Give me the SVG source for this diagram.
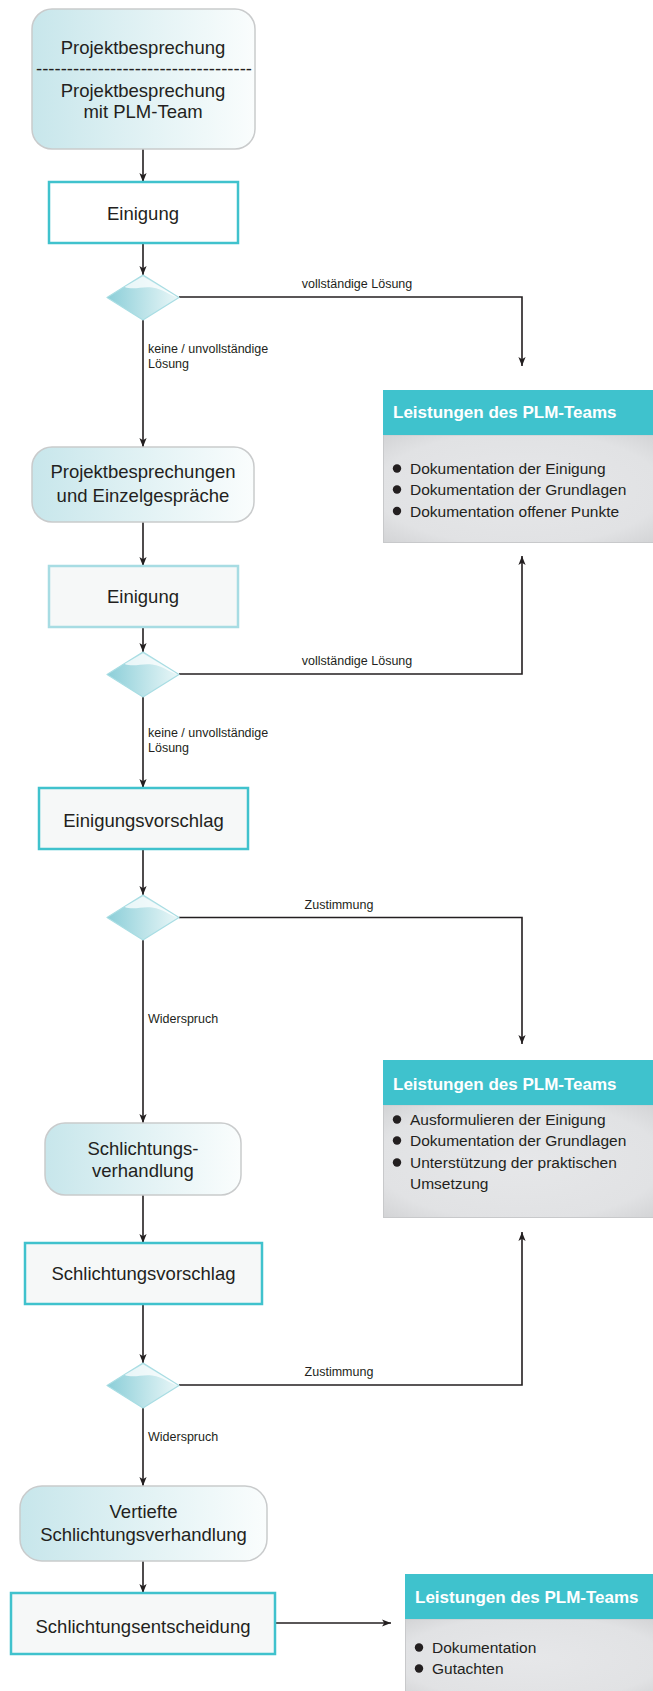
<svg xmlns="http://www.w3.org/2000/svg" xmlns:xlink="http://www.w3.org/1999/xlink" width="653" height="1691" viewBox="0 0 653 1691">
<style>
.node{font-family:"Liberation Sans",Arial,sans-serif;font-size:18.5px;fill:#231f20;text-anchor:middle}
.lbl{font-family:"Liberation Sans",Arial,sans-serif;font-size:12.5px;fill:#231f20}
.hdr{font-family:"Liberation Sans",Arial,sans-serif;font-size:17px;font-weight:bold;fill:#ffffff}
.bul{font-family:"Liberation Sans",Arial,sans-serif;font-size:15.5px;fill:#231f20}
.rbox{fill:url(#gRound);stroke:#c9cbcc;stroke-width:1.5}
.sbox{stroke:#40c2cd;stroke-width:2.5;fill:#f6f8f8}
.hbar{fill:#3fc2cd}
.body{fill:url(#gBody);stroke:#c8c9cb;stroke-width:1}
.con{fill:none;stroke:#231f20;stroke-width:1.6}
.arr{marker-end:url(#ah)}
</style>
<defs>
<linearGradient id="gRound" x1="0" y1="0" x2="1" y2="0">
<stop offset="0" stop-color="#c7e6eb"/>
<stop offset="0.55" stop-color="#e4f3f5"/>
<stop offset="1" stop-color="#fafdfd"/>
</linearGradient>
<linearGradient id="gDia" x1="0" y1="0" x2="1" y2="0">
<stop offset="0" stop-color="#8bced8"/>
<stop offset="1" stop-color="#eaf7f8"/>
</linearGradient>
<radialGradient id="gBody" cx="0.5" cy="0.5" r="0.75">
<stop offset="0" stop-color="#e6e7e9"/>
<stop offset="0.7" stop-color="#e1e2e4"/>
<stop offset="1" stop-color="#cfd0d2"/>
</radialGradient>
<marker id="ah" viewBox="0 0 10 8" refX="10" refY="4" markerWidth="9" markerHeight="7.5" markerUnits="userSpaceOnUse" orient="auto">
<path d="M0,0 L10,4 L0,8 L2.5,4 Z" fill="#231f20"/>
</marker>
<g id="dia">
<path d="M0,-22.5 L36,0 L0,22.5 L-36,0 Z" fill="url(#gDia)" stroke="#a8dde3" stroke-width="1.2" stroke-linejoin="round"/>
<path d="M0,-21.3 L34,-0.6 C26,-2 21,-8.5 9,-10 C-1,-11.5 -9,-7 -18.5,-10.5 Z" fill="#ffffff" opacity="0.75"/>
</g>
</defs>

<g id="connectors">
<line class="con arr" x1="143" y1="149" x2="143" y2="182"/>
<line class="con arr" x1="143" y1="243" x2="143" y2="275"/>
<polyline class="con arr" points="179,297 522,297 522,366"/>
<text class="lbl" x="357" y="288" text-anchor="middle">vollständige Lösung</text>
<line class="con arr" x1="143" y1="319.5" x2="143" y2="447"/>
<text class="lbl" x="148" y="353">keine / unvollständige</text>
<text class="lbl" x="148" y="368">Lösung</text>
<line class="con arr" x1="143" y1="522" x2="143" y2="566"/>
<line class="con arr" x1="143" y1="627" x2="143" y2="652"/>
<polyline class="con arr" points="179,674 522,674 522,556"/>
<text class="lbl" x="357" y="665" text-anchor="middle">vollständige Lösung</text>
<line class="con arr" x1="143" y1="696.5" x2="143" y2="788"/>
<text class="lbl" x="148" y="737">keine / unvollständige</text>
<text class="lbl" x="148" y="752">Lösung</text>
<line class="con arr" x1="143" y1="849" x2="143" y2="895"/>
<polyline class="con arr" points="179,917.5 522,917.5 522,1044"/>
<text class="lbl" x="339" y="909" text-anchor="middle">Zustimmung</text>
<line class="con arr" x1="143" y1="940" x2="143" y2="1123"/>
<text class="lbl" x="148" y="1023">Widerspruch</text>
<line class="con arr" x1="143" y1="1195" x2="143" y2="1243"/>
<line class="con arr" x1="143" y1="1304" x2="143" y2="1363"/>
<polyline class="con arr" points="179,1385 522,1385 522,1232"/>
<text class="lbl" x="339" y="1376" text-anchor="middle">Zustimmung</text>
<line class="con arr" x1="143" y1="1407.5" x2="143" y2="1486"/>
<text class="lbl" x="148" y="1441">Widerspruch</text>
<line class="con arr" x1="143" y1="1561" x2="143" y2="1593"/>
<line class="con arr" x1="275" y1="1623" x2="391" y2="1623"/>
</g>

<g id="n-projektbesprechung">
<rect class="rbox" x="32" y="9" width="223" height="140" rx="20"/>
<text class="node" x="143" y="54">Projektbesprechung</text>
<text class="node" x="144" y="75" textLength="216" lengthAdjust="spacing">-----------------------------------</text>
<text class="node" x="143" y="97">Projektbesprechung</text>
<text class="node" x="143" y="118">mit PLM-Team</text>
</g>

<g id="n-einigung1">
<rect class="sbox" x="49" y="182" width="189" height="61" style="fill:#ffffff"/>
<text class="node" x="143" y="220">Einigung</text>
</g>

<g id="n-dec1"><use xlink:href="#dia" href="#dia" x="143" y="297.5"/></g>

<g id="n-projektbesprechungen">
<rect class="rbox" x="32" y="447" width="222" height="75" rx="20"/>
<text class="node" x="143" y="478">Projektbesprechungen</text>
<text class="node" x="143" y="502">und Einzelgespräche</text>
</g>

<g id="n-einigung2">
<rect class="sbox" x="49" y="566" width="189" height="61" style="stroke:#a7dce3"/>
<text class="node" x="143" y="603">Einigung</text>
</g>

<g id="n-dec2"><use xlink:href="#dia" href="#dia" x="143" y="674.5"/></g>

<g id="n-einigungsvorschlag">
<rect class="sbox" x="39" y="788" width="209" height="61"/>
<text class="node" x="143.5" y="827">Einigungsvorschlag</text>
</g>

<g id="n-dec3"><use xlink:href="#dia" href="#dia" x="143" y="917.5"/></g>

<g id="n-schlichtungsverhandlung">
<rect class="rbox" x="45" y="1123" width="196" height="72" rx="20"/>
<text class="node" x="143" y="1155">Schlichtungs-</text>
<text class="node" x="143" y="1177">verhandlung</text>
</g>

<g id="n-schlichtungsvorschlag">
<rect class="sbox" x="25" y="1243" width="237" height="61"/>
<text class="node" x="143.5" y="1280">Schlichtungsvorschlag</text>
</g>

<g id="n-dec4"><use xlink:href="#dia" href="#dia" x="143" y="1385.5"/></g>

<g id="n-vertiefte">
<rect class="rbox" x="20" y="1486" width="247" height="75" rx="22"/>
<text class="node" x="143.5" y="1518">Vertiefte</text>
<text class="node" x="143.5" y="1541">Schlichtungsverhandlung</text>
</g>

<g id="n-schlichtungsentscheidung">
<rect class="sbox" x="11" y="1593" width="264" height="61"/>
<text class="node" x="143" y="1633">Schlichtungsentscheidung</text>
</g>

<g id="n-leistungen1">
<rect class="body" x="383.5" y="435" width="272" height="107.5"/>
<rect class="hbar" x="383" y="390" width="270" height="45"/>
<text class="hdr" x="393" y="418">Leistungen des PLM-Teams</text>
<circle cx="397" cy="468.5" r="4.2" fill="#231f20"/>
<text class="bul" x="410" y="474">Dokumentation der Einigung</text>
<circle cx="397" cy="489.5" r="4.2" fill="#231f20"/>
<text class="bul" x="410" y="495">Dokumentation der Grundlagen</text>
<circle cx="397" cy="511" r="4.2" fill="#231f20"/>
<text class="bul" x="410" y="516.5">Dokumentation offener Punkte</text>
</g>

<g id="n-leistungen2">
<rect class="body" x="383.5" y="1105" width="272" height="112.5"/>
<rect class="hbar" x="383" y="1060" width="270" height="45"/>
<text class="hdr" x="393" y="1090">Leistungen des PLM-Teams</text>
<circle cx="397" cy="1119.5" r="4.2" fill="#231f20"/>
<text class="bul" x="410" y="1125">Ausformulieren der Einigung</text>
<circle cx="397" cy="1140.5" r="4.2" fill="#231f20"/>
<text class="bul" x="410" y="1146">Dokumentation der Grundlagen</text>
<circle cx="397" cy="1162.5" r="4.2" fill="#231f20"/>
<text class="bul" x="410" y="1168">Unterstützung der praktischen</text>
<text class="bul" x="410" y="1189">Umsetzung</text>
</g>

<g id="n-leistungen3">
<rect class="body" x="405.5" y="1619" width="250" height="80"/>
<rect class="hbar" x="405" y="1574" width="248" height="45"/>
<text class="hdr" x="415" y="1603">Leistungen des PLM-Teams</text>
<circle cx="419" cy="1647.5" r="4.2" fill="#231f20"/>
<text class="bul" x="432" y="1653">Dokumentation</text>
<circle cx="419" cy="1668.5" r="4.2" fill="#231f20"/>
<text class="bul" x="432" y="1674">Gutachten</text>
</g>
</svg>
